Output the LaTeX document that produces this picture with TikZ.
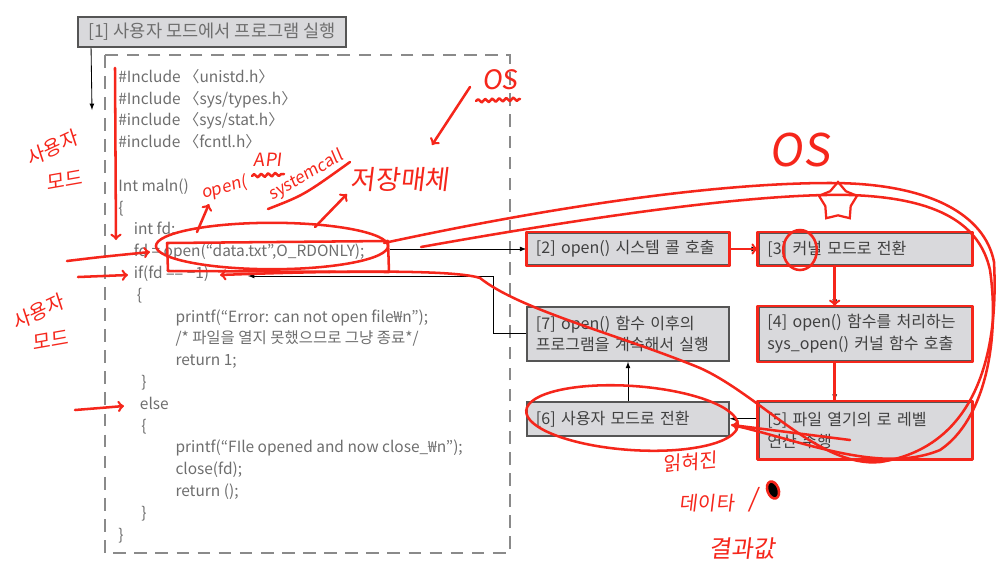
\documentclass[tikz,border=0pt]{standalone}
\usepackage{fontspec}
\setmainfont{Noto Sans CJK KR}
\newfontfamily\handfont[FakeSlant=0.12]{Noto Sans CJK KR}
\usepackage{tikz}
\usetikzlibrary{arrows,calc,decorations.pathmorphing,positioning,shapes.geometric}
\definecolor{boxfill}{HTML}{D9D9DC}
\definecolor{boxline}{HTML}{555555}
\definecolor{codegray}{HTML}{6E6E6E}
\definecolor{framegray}{HTML}{8A8A8A}
\definecolor{pen}{HTML}{F5261B}
\tikzset{%
	titlebox/.style = {draw=boxline, fill=boxfill, line width=1.3pt, rectangle, minimum width=6.7cm, minimum height=0.75cm, text=codegray, font=\fontsize{12.5}{14}\selectfont},
	stepbox/.style  = {draw=boxline, fill=boxfill, line width=1.3pt, rectangle, align=left, inner xsep=0.22cm, text=black!75, font=\fontsize{11.4}{15.5}\selectfont},
	leftcol/.style  = {stepbox, text width=4.6cm}, % left column
	rightcol/.style = {stepbox, text width=4.88cm}, % right column
	codetext/.style = {align=left, inner sep=0pt, text=codegray, font=\fontsize{11}{15.5}\selectfont},
	codeframe/.style= {draw=framegray, line width=2pt, dash pattern=on 9pt off 6pt},
	waypoint/.style = {coordinate},
	arrow/.style    = {semithick,-latex,>=stealth},
}
\tikzset{%
	pen/.style      = {draw=pen, line width=1.8pt, line cap=round, line join=round},
	penarrow/.style = {pen, -to},
	wavy/.style     = {pen, decorate, decoration={snake, amplitude=1.2pt, segment length=5pt}},
	hand/.style     = {text=pen, inner sep=0pt, font=\handfont\fontsize{14}{14}\selectfont},
}

\begin{document}
\begin{tikzpicture}[x=0.025cm, y=-0.025cm]
	\useasboundingbox (0,0) rectangle (997,580);

	% book figure
	\node[titlebox] (B1) at (212,32) {[1] 사용자 모드에서 프로그램 실행};
	\draw[codeframe] (105,55) rectangle (510,553);
	\node[codetext, anchor=north west] (Code) at (118,69) {%
		\#Include 〈unistd.h〉\\
		\#Include 〈sys/types.h〉\\
		\#include 〈sys/stat.h〉\\
		\#include 〈fcntl.h〉\\
		\mbox{}\\
		Int maln()\\
		\{\\
		\hspace*{1em}int fd:\\
		\hspace*{1em}fd = open(“data.txt”,O\_RDONLY);\\
		\hspace*{1em}if(fd == −1)\\
		\hspace*{1.2em}\{\\
		\hspace*{3.7em}printf(“Error: can not open file₩n”);\\
		\hspace*{3.7em}/* 파일을 열지 못했으므로 그냥 종료*/\\
		\hspace*{3.7em}return 1;\\
		\hspace*{1.5em}\}\\
		\hspace*{1.4em}else\\
		\hspace*{1.5em}\{\\
		\hspace*{3.7em}printf(“FIle opened and now close\_₩n”);\\
		\hspace*{3.7em}close(fd);\\
		\hspace*{3.7em}return ();\\
		\hspace*{1.5em}\}\\
		\}};

	\node[leftcol, minimum height=0.8cm] (S2) at (628,249) {[2] open() 시스템 콜 호출};
	\node[rightcol, minimum height=0.8cm, right=0.7cm of S2] (S3) {[3] 커널 모드로 전환};
	\node[rightcol, minimum height=1.35cm, below=1cm of S3] (S4) {[4] open() 함수를 처리하는\\sys\_open() 커널 함수 호출};
	\node[rightcol, minimum height=1.425cm, below=0.975cm of S4] (S5) {[5] 파일 열기의 로 레벨\\연산 수행};
	\node[leftcol, minimum height=1.35cm, below=1cm of S2] (S7) {[7] open() 함수 이후의\\프로그램을 계속해서 실행};
	\node[leftcol, minimum height=0.85cm, below=0.975cm of S7] (S6) {[6] 사용자 모드로 전환};

	\coordinate (UserEnd) at (92,110);
	\coordinate (OpenEnd) at (390,249);
	\coordinate (Turn) at (493,276);
	\coordinate (IfEnd) at (248,276);

	\draw[arrow] ([xshift=0.35cm]B1.south west) -- (UserEnd);
	\draw[arrow] (OpenEnd) -- (S2.west);
	\draw[arrow] (S2) -- (S3);
	\draw[arrow] ([xshift=-0.76cm]S3.south) -- ([xshift=-0.76cm]S4.north);
	\draw[arrow] ([xshift=-0.76cm]S4.south) -- ([xshift=-0.76cm]S5.north);
	\draw[arrow] (S5.west |- S6.east) -- (S6.east);
	\draw[arrow] (S6) -- (S7);
	\draw[arrow] (S7.west) -| (Turn) -- (IfEnd);

	% handwriting on top
	\node[hand, rotate=25] (UserA) at (52,148) {사용자};
	\node[hand, rotate=10] (UserA2) at (64,180) {모드};
	\node[hand, rotate=25] (UserB) at (38,312) {사용자};
	\node[hand, rotate=10] (UserB2) at (50,340) {모드};
	\draw[penarrow] (115,68) -- (116,240);
	\draw[penarrow] (67,261) .. controls (100,257) .. (150,252);
	\draw[penarrow] (78,277) -- (128,275);
	\draw[penarrow] (75,410) .. controls (100,408) .. (124,406);

	\draw[pen] (272,246) ellipse [x radius=2.9cm, y radius=0.58cm];
	\draw[pen] (167,243) -- (388,241) -- (389,272) -- (168,271) -- cycle;
	\draw[penarrow] (197,232) -- (209,204);
	\draw[penarrow] (315,227) -- (347,194);
	\node[hand, rotate=15, font=\handfont\fontsize{12}{12}\selectfont] (OpenNote) at (224,188) {open(};
	\node[hand, font=\handfont\fontsize{13}{13}\selectfont] (ApiNote) at (268,160) {API};
	\draw[wavy] (252,176) -- (284,174);
	\node[hand, rotate=30, font=\handfont\fontsize{12}{12}\selectfont] (SysNote) at (306,176) {systemcall};
	\draw[pen] (268,209) .. controls (304,195) .. (350,162);
	\node[hand, font=\handfont\fontsize{19}{19}\selectfont] (MediaNote) at (400,180) {저장매체};
	\node[hand, font=\handfont\fontsize{19}{19}\selectfont] (OsA) at (500,80) {OS};
	\draw[wavy] (476,101) -- (520,99);
	\draw[penarrow] (470,87) -- (432,145);
	\node[hand, font=\handfont\fontsize{32}{32}\selectfont] (OsB) at (800,150) {OS};
	\node[star, star points=5, draw=pen, line width=1.6pt, minimum size=1cm, inner sep=0pt] (Star) at (838,202) {};

	\draw[pen] (384,243) .. controls (560,205) and (720,183) .. (830,183) .. controls (930,183) and (985,215) .. (994,262);
	\draw[pen] (421,247) .. controls (600,215) and (760,193) .. (850,195) .. controls (940,198) and (980,225) .. (990,270)
		.. controls (1000,340) and (985,420) .. (940,450) .. controls (880,475) and (800,440) .. (732,425);
	\draw[penarrow] (850,440) -- (732,425);
	\draw[penarrow] (994,262) .. controls (1000,380) and (960,450) .. (880,462) .. controls (820,468) and (760,395) .. (700,368)
		.. controls (620,335) and (520,310) .. (480,278) .. controls (450,268) and (300,272) .. (220,275);

	\draw[pen] (S2.south west) rectangle (S2.north east);
	\draw[pen] (S3.south west) rectangle (S3.north east);
	\draw[pen] (S4.south west) rectangle (S4.north east);
	\draw[pen] (S5.south west) rectangle (S5.north east);
	\draw[penarrow] (S2) -- (S3);
	\draw[penarrow] ([xshift=-0.76cm]S3.south) -- ([xshift=-0.76cm]S4.north);
	\draw[pen] ([xshift=-0.76cm]S4.south) -- ([xshift=-0.76cm]S5.north);
	\draw[pen] (800,250) ellipse [x radius=0.42cm, y radius=0.5cm];
	\draw[pen, rotate around={-4:(632,418)}] (632,418) ellipse [x radius=2.65cm, y radius=0.8cm];

	\node[hand, rotate=5] (ReadNote) at (690,462) {읽혀진};
	\node[hand] (DataNote) at (707,503) {데이타};
	\node[hand, font=\handfont\fontsize{18}{18}\selectfont] (SlashNote) at (753,500) {/};
	\fill[pen, rotate around={20:(773,490)}] (773,490) ellipse [x radius=0.14cm, y radius=0.22cm];
	\node[hand, font=\handfont\fontsize{17}{17}\selectfont] (ResultNote) at (742,549) {결과값};
\end{tikzpicture}
\end{document}
